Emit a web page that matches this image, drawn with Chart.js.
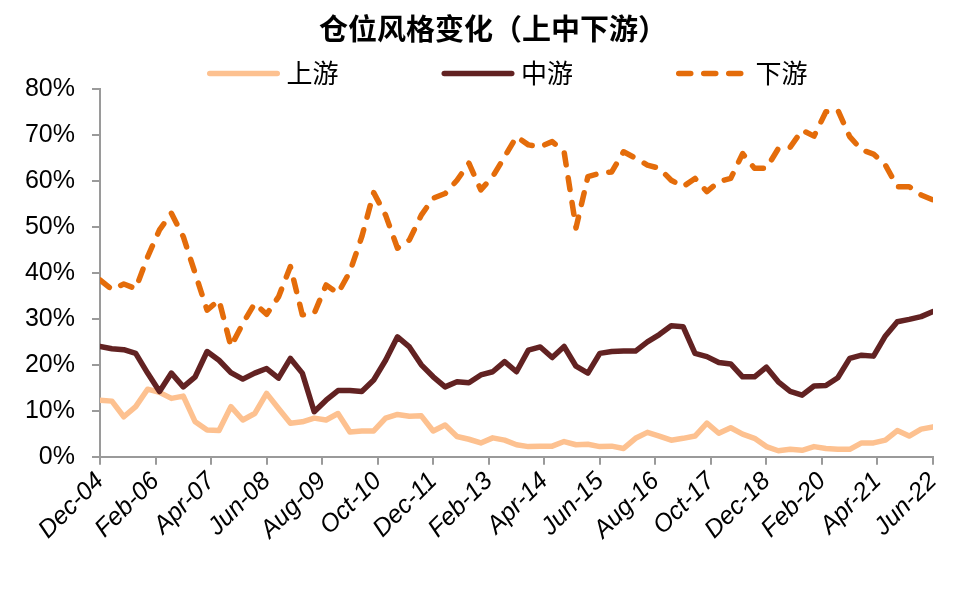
<!DOCTYPE html>
<html>
<head>
<meta charset="utf-8">
<script src="https://cdn.jsdelivr.net/npm/chart.js@4.4.1/dist/chart.umd.min.js"></script>
<style>
  html, body { margin: 0; padding: 0; background: #ffffff; }
  #wrap { width: 964px; height: 591px; }
</style>
</head>
<body>
<div id="wrap"><canvas id="c" width="964" height="591"></canvas></div>
<script>
// ---- Data ----
const quarters = [
  'Dec-04',
  'Mar-05','Jun-05','Sep-05','Dec-05',
  'Mar-06','Jun-06','Sep-06','Dec-06',
  'Mar-07','Jun-07','Sep-07','Dec-07',
  'Mar-08','Jun-08','Sep-08','Dec-08',
  'Mar-09','Jun-09','Sep-09','Dec-09',
  'Mar-10','Jun-10','Sep-10','Dec-10',
  'Mar-11','Jun-11','Sep-11','Dec-11',
  'Mar-12','Jun-12','Sep-12','Dec-12',
  'Mar-13','Jun-13','Sep-13','Dec-13',
  'Mar-14','Jun-14','Sep-14','Dec-14',
  'Mar-15','Jun-15','Sep-15','Dec-15',
  'Mar-16','Jun-16','Sep-16','Dec-16',
  'Mar-17','Jun-17','Sep-17','Dec-17',
  'Mar-18','Jun-18','Sep-18','Dec-18',
  'Mar-19','Jun-19','Sep-19','Dec-19',
  'Mar-20','Jun-20','Sep-20','Dec-20',
  'Mar-21','Jun-21','Sep-21','Dec-21',
  'Mar-22','Jun-22'
];

const upstream = [
  12.3, 12.1, 8.7, 10.9, 14.7, 14.0, 12.7, 13.2, 7.6, 5.8,
  5.7, 10.9, 8.0, 9.4, 13.8, 10.5, 7.3, 7.6, 8.4, 8.0,
  9.4, 5.4, 5.6, 5.6, 8.4, 9.2, 8.8, 8.9, 5.6, 6.9,
  4.4, 3.8, 3.0, 4.1, 3.6, 2.6, 2.2, 2.3, 2.3, 3.3,
  2.6, 2.7, 2.2, 2.3, 1.8, 4.0, 5.3, 4.5, 3.6, 4.0,
  4.5, 7.3, 5.1, 6.3, 4.9, 4.0, 2.2, 1.3, 1.6, 1.4,
  2.2, 1.8, 1.6, 1.6, 3.0, 3.0, 3.6, 5.7, 4.5, 6.0,
  6.5
];

const midstream = [
  24.0, 23.5, 23.3, 22.5, 18.2, 14.2, 18.2, 15.2, 17.4, 22.9,
  21.0, 18.3, 16.9, 18.2, 19.2, 17.1, 21.4, 18.2, 9.8, 12.3,
  14.4, 14.4, 14.2, 16.7, 21.0, 26.1, 23.9, 20.0, 17.4, 15.2,
  16.3, 16.1, 17.8, 18.5, 20.7, 18.5, 23.2, 23.9, 21.6, 24.0,
  19.7, 18.2, 22.5, 22.9, 23.0, 23.0, 25.0, 26.6, 28.5, 28.3,
  22.5, 21.8, 20.5, 20.2, 17.4, 17.4, 19.5, 16.3, 14.2, 13.4,
  15.4, 15.5, 17.2, 21.4, 22.1, 21.9, 26.3, 29.4, 29.9, 30.5,
  31.6
];

const downstream = [
  38.5, 36.4, 37.6, 36.6, 43.5, 49.4, 53.0, 47.9, 39.9, 31.9,
  34.1, 24.0, 29.0, 33.4, 31.0, 34.8, 41.4, 30.9, 31.2, 37.4,
  35.6, 40.3, 47.9, 57.5, 52.6, 45.4, 47.2, 52.6, 56.3, 57.3,
  60.2, 63.9, 58.1, 61.0, 65.3, 69.7, 67.9, 67.5, 68.6, 66.4,
  49.8, 61.0, 61.7, 62.0, 66.4, 65.0, 63.5, 62.8, 60.2, 58.8,
  60.6, 57.7, 59.9, 60.6, 66.0, 62.8, 62.8, 67.1, 67.4, 71.1,
  69.8, 75.1, 75.5, 69.7, 66.8, 65.9, 63.5, 58.8, 58.8, 57.0,
  55.9
];

const seriesNames = ['上游', '中游', '下游'];
const xTickLabels = ['Dec-04','Feb-06','Apr-07','Jun-08','Aug-09','Oct-10','Dec-11','Feb-13',
                     'Apr-14','Jun-15','Aug-16','Oct-17','Dec-18','Feb-20','Apr-21','Jun-22'];
const yTickValues = [0, 10, 20, 30, 40, 50, 60, 70, 80];
const chartTitle = '仓位风格变化（上中下游）';

// ---- helpers ----
const MONTHS = ['Jan','Feb','Mar','Apr','May','Jun','Jul','Aug','Sep','Oct','Nov','Dec'];
function monthIndex(label) { // months since Dec-04
  const [m, y] = label.split('-');
  return (parseInt(y, 10) - 4) * 12 + MONTHS.indexOf(m) - 11;
}
const tickMonths = xTickLabels.map(monthIndex);
const toPoints = arr => arr.map((v, i) => ({ x: monthIndex(quarters[i]), y: v }));

// Title + line-style legend drawn on the chart canvas
const headerPlugin = {
  id: 'header',
  afterDraw(chart, args, opts) {
    const ctx = chart.ctx;
    ctx.save();
    ctx.fillStyle = '#000000';
    ctx.font = opts.titleFont;
    ctx.textAlign = 'center';
    ctx.textBaseline = 'middle';
    ctx.fillText(opts.title, opts.titleX, opts.titleY);
    ctx.restore();
    chart.data.datasets.forEach((ds, i) => {
      const x0 = opts.startX + i * opts.step;
      const cap = ds.borderWidth / 2;
      ctx.save();
      ctx.strokeStyle = ds.borderColor;
      ctx.lineWidth = ds.borderWidth;
      ctx.lineCap = 'round';
      ctx.setLineDash(ds.borderDash || []);
      ctx.beginPath();
      ctx.moveTo(x0 + cap, opts.y);
      ctx.lineTo(x0 + opts.lineLen - cap, opts.y);
      ctx.stroke();
      ctx.setLineDash([]);
      ctx.fillStyle = '#000000';
      ctx.font = opts.font;
      ctx.textBaseline = 'middle';
      ctx.textAlign = 'left';
      ctx.fillText(ds.label, x0 + opts.lineLen + opts.gap, opts.y);
      ctx.restore();
    });
  }
};

const axisGray = '#9a9a9a';
const tickFont = { family: "'Liberation Sans', Arial, sans-serif", size: 25 };

new Chart(document.getElementById('c'), {
  type: 'line',
  data: {
    datasets: [
      { label: seriesNames[0], data: toPoints(upstream), borderColor: '#fdc190', borderWidth: 5.5,
        pointRadius: 0, tension: 0, borderJoinStyle: 'round', borderCapStyle: 'round', order: 3 },
      { label: seriesNames[1], data: toPoints(midstream), borderColor: '#622222', borderWidth: 5.5,
        pointRadius: 0, tension: 0, borderJoinStyle: 'round', borderCapStyle: 'round', order: 2 },
      { label: seriesNames[2], data: toPoints(downstream), borderColor: '#e46c0a', borderWidth: 5.5,
        borderDash: [12, 13], pointRadius: 0, tension: 0, borderJoinStyle: 'round', borderCapStyle: 'round', order: 1 }
    ]
  },
  options: {
    responsive: false,
    animation: false,
    devicePixelRatio: 1,
    layout: { padding: { left: 0, right: 31, top: 89.3, bottom: 0 } },
    plugins: {
      legend: { display: false },
      tooltip: { enabled: false },
      title: { display: false },
      header: {
        title: chartTitle, titleX: 493, titleY: 28.5,
        titleFont: "bold 29px 'Noto Sans CJK SC', sans-serif",
        startX: 207, step: 234.5, lineLen: 73, gap: 6.5, y: 73.5,
        font: "26px 'Noto Sans CJK SC', sans-serif"
      }
    },
    scales: {
      x: {
        type: 'linear',
        min: tickMonths[0],
        max: tickMonths[tickMonths.length - 1],
        afterBuildTicks: s => { s.ticks = tickMonths.map(v => ({ value: v })); },
        afterFit: s => { s.height = 134.3; },
        grid: { display: true, drawOnChartArea: false, drawTicks: true, tickLength: 8, color: axisGray, lineWidth: 2 },
        border: { display: true, color: axisGray, width: 2 },
        ticks: {
          autoSkip: false, maxRotation: 45, minRotation: 45, padding: 2,
          color: '#000000',
          font: Object.assign({ style: 'italic' }, tickFont),
          callback: v => xTickLabels[tickMonths.indexOf(v)]
        }
      },
      y: {
        min: 0, max: 80,
        afterBuildTicks: s => { s.ticks = yTickValues.map(v => ({ value: v })); },
        afterFit: s => { s.width = 100; },
        grid: { display: true, drawOnChartArea: false, drawTicks: true, tickLength: 8, color: axisGray, lineWidth: 2 },
        border: { display: true, color: axisGray, width: 2 },
        ticks: { color: '#000000', font: tickFont, padding: 17, callback: v => v + '%' }
      }
    }
  },
  plugins: [headerPlugin]
});
</script>
</body>
</html>
